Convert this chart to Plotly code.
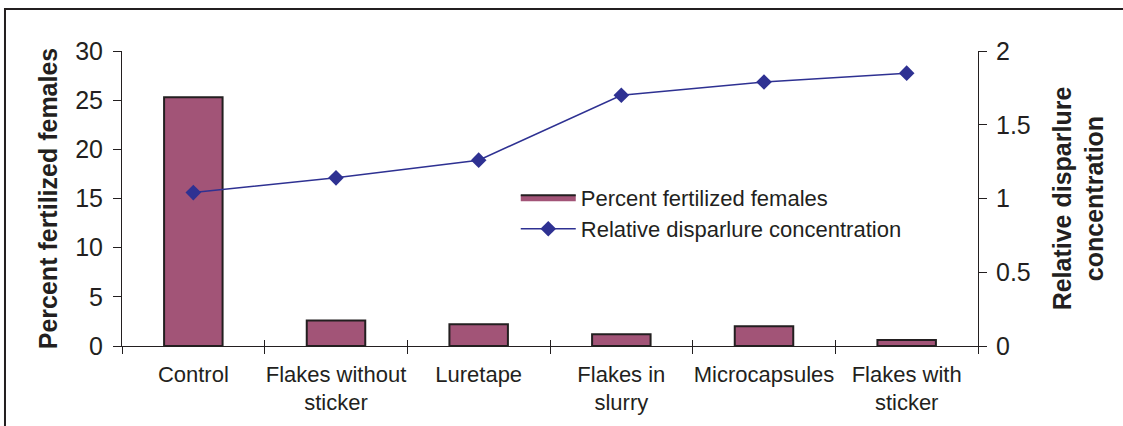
import plotly.graph_objects as go

categories = ["Control", "Flakes without<br>sticker", "Luretape", "Flakes in<br>slurry",
              "Microcapsules", "Flakes with<br>sticker"]
percent_fertilized = [25.3, 2.6, 2.2, 1.2, 2.0, 0.6]
relative_disparlure = [1.04, 1.14, 1.26, 1.70, 1.79, 1.85]
left_ticks = [0, 5, 10, 15, 20, 25, 30]
right_ticks = [0, 0.5, 1, 1.5, 2]

FONT = "Liberation Sans, Arial, sans-serif"
AX = "#231F20"
BAR = "#A25477"

fig = go.Figure()
fig.add_trace(go.Bar(
    x=categories, y=percent_fertilized, name="Percent fertilized females",
    marker=dict(color=BAR, line=dict(color=AX, width=2)), width=0.41,
    xaxis="x", yaxis="y", showlegend=False, legendgroup="bar"))
# legend-only entry giving a wide rectangular swatch like the original legend
fig.add_trace(go.Scatter(
    x=[None], y=[None], name="Percent fertilized females", mode="lines",
    fill="toself", fillcolor=BAR, line=dict(color=AX, width=2),
    legendgroup="bar", xaxis="x", yaxis="y"))
fig.add_trace(go.Scatter(
    x=categories, y=relative_disparlure, name="Relative disparlure concentration",
    mode="lines+markers", line=dict(color="#2E3192", width=1.5),
    marker=dict(symbol="diamond", size=12, color="#2E3192"),
    xaxis="x", yaxis="y2"))
# invisible helper trace so the overlay category axis has ticks (crossing tick marks)
fig.add_trace(go.Scatter(x=categories, y=percent_fertilized, mode="none",
                         showlegend=False, hoverinfo="skip", xaxis="x2", yaxis="y"))

tickfont = dict(family=FONT, size=25, color=AX)
fig.update_layout(
    width=1123, height=426,
    margin=dict(l=122, r=145, t=51, b=80, autoexpand=False),
    paper_bgcolor="white", plot_bgcolor="white",
    font=dict(family=FONT, color=AX),
    showlegend=True,
    legend=dict(x=0.46, y=0.575, xanchor="left", yanchor="top",
                font=dict(family=FONT, size=22, color=AX),
                bgcolor="rgba(0,0,0,0)", tracegroupgap=2, itemwidth=55,
                traceorder="normal"),
    xaxis=dict(type="category", showline=True, linecolor=AX, linewidth=1.3,
               ticks="outside", ticklen=7, tickcolor=AX, tickwidth=1,
               tickson="boundaries", showgrid=False, zeroline=False,
               ticklabelstandoff=8, tickangle=0, automargin=False,
               categoryorder="array", categoryarray=categories,
               tickfont=dict(family=FONT, size=22, color=AX), range=[-0.5, 5.5]),
    xaxis2=dict(type="category", overlaying="x", anchor="y", side="bottom",
                ticks="inside", ticklen=6, tickcolor=AX, tickson="boundaries",
                showticklabels=False, showline=False, showgrid=False,
                range=[-0.5, 5.5]),
    yaxis=dict(range=[0, 30], tickvals=left_ticks, showline=True, linecolor=AX,
               linewidth=1, ticks="outside", ticklen=8, tickcolor=AX, showgrid=False,
               zeroline=False, tickfont=tickfont, ticklabelstandoff=5, automargin=False,
               title=dict(text="<b>Percent fertilized females</b>",
                          font=dict(family=FONT, size=25, color=AX), standoff=10)),
    yaxis3=dict(range=[0, 30], tickvals=left_ticks, overlaying="y", anchor="x",
                side="left", ticks="inside", ticklen=8, tickcolor=AX,
                showticklabels=False, showgrid=False, zeroline=False),
    yaxis2=dict(range=[0, 2], tickvals=right_ticks, overlaying="y", side="right",
                anchor="x", showline=True, linecolor=AX, linewidth=1,
                ticks="outside", ticklen=8, tickcolor=AX, showgrid=False,
                zeroline=False, tickfont=tickfont, ticklabelstandoff=4, automargin=False,
                title=dict(text="<b>Relative disparlure<br>concentration</b>",
                           font=dict(family=FONT, size=25, color=AX), standoff=23)),
    yaxis4=dict(range=[0, 2], tickvals=right_ticks, overlaying="y", side="right",
                anchor="x", ticks="inside", ticklen=8, tickcolor=AX,
                showticklabels=False, showgrid=False, zeroline=False),
    shapes=[dict(type="rect", xref="paper", yref="paper",
                 x0=-0.1367, x1=1.3, y0=-2, y1=1.142,
                 line=dict(color=AX, width=2), fillcolor="rgba(0,0,0,0)", layer="below")],
)

fig.write_html("out.html", post_script="document.body.style.margin='0px';",
               config={"displayModeBar": False})
